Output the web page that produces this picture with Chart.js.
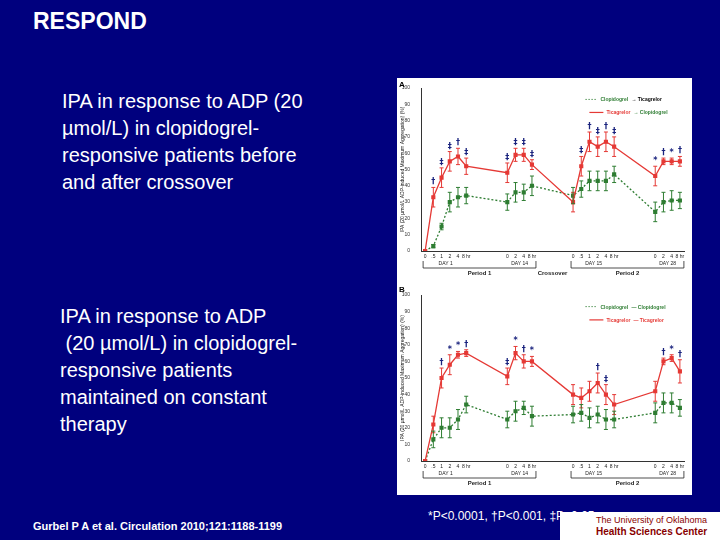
<!DOCTYPE html>
<html><head><meta charset="utf-8">
<script src="https://cdn.jsdelivr.net/npm/chart.js@4"></script>
<style>
body{margin:0;width:720px;height:540px;background:#00007e;font-family:"Liberation Sans",Arial,sans-serif;color:#fff;position:relative;overflow:hidden}
.t{position:absolute;white-space:nowrap;z-index:2}
.box{position:absolute;background:#fff}
</style></head><body>
<div class="t" style="left:33px;top:8px;font-size:23px;font-weight:bold">RESPOND</div>
<div class="t" style="left:62px;top:88px;font-size:20px;line-height:27px">IPA in response to ADP (20<br>µmol/L) in clopidogrel-<br>responsive patients before<br>and after crossover</div>
<div class="t" style="left:60px;top:303px;font-size:20px;line-height:27px">IPA in response to ADP<br>&nbsp;(20 µmol/L) in clopidogrel-<br>responsive patients<br>maintained on constant<br>therapy</div>
<div class="t" style="left:33px;top:520px;font-size:11px;font-weight:bold">Gurbel P A et al. Circulation 2010;121:1188-1199</div>
<div class="box" style="left:560px;top:512px;width:160px;height:28px;background:#fff;color:#800;font-size:9px;line-height:12px;padding-left:36px;padding-top:2px;box-sizing:border-box;z-index:1">The University of Oklahoma<br><b style="font-size:10px">Health Sciences Center</b></div>
<div class="t" style="left:428px;top:509px;font-size:12px">*P&lt;0.0001, †P&lt;0.001, ‡P&lt;0.05</div>
<div class="box" style="left:397px;top:78px;width:295px;height:205px"><canvas id="cA" width="295" height="205"></canvas></div>
<div class="box" style="left:397px;top:283px;width:295px;height:212px"><canvas id="cB" width="295" height="212"></canvas></div>
<script>
const xPos = [0,1,2,3,4,5, 10,11,12,13, 18,19,20,21,22,23, 28,29,30,31];
const xTicks = ['0','.5','1','2','4','8 hr','0','2','4','8 hr','0','.5','1','2','4','8 hr','0','2','4','8 hr'];
const aRed = [0,33,45,55,58,52, 48,59,59,53, 30,52,67,64,67,64, 46,55,55,55];
const aRedErr = [0,6,6,6,5,5, 6,4,4,3, 6,6,6,6,6,6, 6,2,2,3];
const aGreen = [0,3,15,30,33,34, 30,36,36,40, 34,38,43,43,43,47, 24,30,31,31];
const aGreenErr = [0,1,2,6,6,5, 5,6,5,6, 5,5,6,6,6,5, 6,6,6,5];
const aMarks = ['','†','‡','‡','†','‡', '‡','‡','‡','‡', '','‡','†','‡','†','‡', '*','†','*','†'];
const bRed = [0,22,50,58,64,65, 51,65,60,60, 40,38,42,47,40,34, 42,60,62,54];
const bRedErr = [0,5,6,6,2,2, 5,4,4,3, 6,6,6,6,6,6, 6,2,2,7];
const bGreen = [0,13,20,20,25,34, 25,30,32,27, 28,29,26,28,25,25, 29,35,35,32];
const bGreenErr = [0,5,6,6,6,5, 5,6,4,6, 5,5,6,5,6,5, 6,6,6,5];
const bMarks = ['','','†','*','*','†', '‡','*','†','*', '','','','†','‡','', '','†','*','†'];

function pts(v){return v.map((y,i)=>({x:xPos[i],y}));}

const deco = {
  id:'deco',
  afterDatasetsDraw(ch, args, o){
    const c = ch.ctx, x = ch.scales.x, y = ch.scales.y;
    c.save();
    ch.data.datasets.forEach((ds,di)=>{
      c.strokeStyle = ds.borderColor; c.lineWidth = 1;
      ds.data.forEach((p,i)=>{
        const e = ds.err[i]; if(!e) return;
        const px = x.getPixelForValue(p.x);
        c.beginPath();
        c.moveTo(px,y.getPixelForValue(p.y-e)); c.lineTo(px,y.getPixelForValue(p.y+e));
        c.moveTo(px-2,y.getPixelForValue(p.y-e)); c.lineTo(px+2,y.getPixelForValue(p.y-e));
        c.moveTo(px-2,y.getPixelForValue(p.y+e)); c.lineTo(px+2,y.getPixelForValue(p.y+e));
        c.stroke();
      });
    });
    const red = ch.data.datasets[0];
    c.fillStyle = '#1a237e'; c.font = 'bold 8px "DejaVu Sans"'; c.textAlign = 'center';
    o.marks.forEach((m,i)=>{
      if(!m) return;
      const p = red.data[i];
      c.fillText(m, x.getPixelForValue(p.x), y.getPixelForValue(p.y+red.err[i])-3);
    });
    c.fillStyle = '#222'; c.strokeStyle = '#222'; c.font = '5px "Liberation Sans"';
    const base = y.bottom + 7;
    xPos.forEach((v,i)=>c.fillText(xTicks[i], x.getPixelForValue(v), base));
    const days = [[0,5,o.days[0]],[10,13,o.days[1]],[18,23,o.days[2]],[28,31,o.days[3]]];
    days.forEach(d=>c.fillText(d[2], (x.getPixelForValue(d[0])+x.getPixelForValue(d[1]))/2, base+7));
    c.lineWidth = 0.8;
    [[0,13,'Period 1'],[18,31,'Period 2']].forEach(p=>{
      const a = x.getPixelForValue(p[0])-2, b = x.getPixelForValue(p[1])+4;
      c.beginPath(); c.moveTo(a,base+3); c.lineTo(a,base+10); c.lineTo(b,base+10); c.lineTo(b,base+3); c.stroke();
      c.font = 'bold 6px "Liberation Sans"';
      c.fillText(p[2], (a+b)/2, base+17);
    });
    if(o.cross){ c.fillText('Crossover', x.getPixelForValue(15.5), base+17); }
    c.textAlign = 'left'; c.font = 'bold 8px "Liberation Sans"'; c.fillStyle = '#000';
    c.fillText(o.letter, 2, 9);
    c.font = 'bold 5px "Liberation Sans"';
    const lx = x.getPixelForValue(19.5), ly = y.getPixelForValue(93);
    c.strokeStyle = '#2e7d32'; c.setLineDash([1.5,1.5]); c.beginPath(); c.moveTo(lx,ly); c.lineTo(lx+12,ly); c.stroke();
    c.setLineDash([]); c.fillStyle = '#2e7d32'; c.fillText(o.leg[0], lx+15, ly+2);
    c.fillStyle = o.leg[1]; c.fillText(o.leg[2], lx+46, ly+2);
    const ly2 = y.getPixelForValue(85);
    c.strokeStyle = '#e53935'; c.lineWidth = 1.2; c.beginPath(); c.moveTo(lx+4,ly2); c.lineTo(lx+18,ly2); c.stroke();
    c.fillStyle = '#e53935'; c.fillText(o.leg[3], lx+21, ly2+2);
    c.fillStyle = o.leg[4]; c.fillText(o.leg[5], lx+48, ly2+2);
    c.save(); c.translate(7,(y.top+y.bottom)/2); c.rotate(-Math.PI/2);
    c.textAlign = 'center'; c.fillStyle = '#111'; c.font = '5px "Liberation Sans"';
    c.fillText('IPA (20 µmol/L ADP-induced Maximum Aggregation) (%)',0,0); c.restore();
    c.restore();
  }
};

function make(id, red, redErr, green, greenErr, opts, padB){
  new Chart(document.getElementById(id), {
    type:'line',
    data:{datasets:[
      {data:pts(red), err:redErr, borderColor:'#e53935', backgroundColor:'#e53935', borderWidth:1.3, pointRadius:2, pointStyle:'rect', tension:0},
      {data:pts(green), err:greenErr, borderColor:'#2e7d32', backgroundColor:'#2e7d32', borderWidth:1.3, borderDash:[2,2], pointRadius:2, pointStyle:'rect', tension:0}
    ]},
    options:{
      responsive:false, animation:false,
      layout:{padding:{left:0,right:8,top:padB[0],bottom:padB[1]}},
      plugins:{legend:{display:false}, tooltip:{enabled:false}, deco:opts},
      scales:{
        x:{type:'linear', min:-0.5, max:31.5, grid:{display:false}, border:{color:'#333'}, ticks:{display:false}},
        y:{min:0, max:100, afterFit(s){s.width=24;}, grid:{display:false}, border:{color:'#333'},
           ticks:{stepSize:10, color:'#333', font:{size:5, family:'Liberation Sans'}}}
      }
    },
    plugins:[deco]
  });
}
make('cA', aRed, aRedErr, aGreen, aGreenErr,
  {marks:aMarks, days:['DAY 1','DAY 14','DAY 15','DAY 28'], cross:true, letter:'A',
   leg:['Clopidogrel','#000','→ Ticagrelor','Ticagrelor','#2e7d32','→ Clopidogrel']}, [10,24]);
make('cB', bRed, bRedErr, bGreen, bGreenErr,
  {marks:bMarks, days:['DAY 1','DAY 14','DAY 15','DAY 28'], cross:false, letter:'B',
   leg:['Clopidogrel','#2e7d32','— Clopidogrel','Ticagrelor','#e53935','— Ticagrelor']}, [12,26]);
</script>
</body></html>
